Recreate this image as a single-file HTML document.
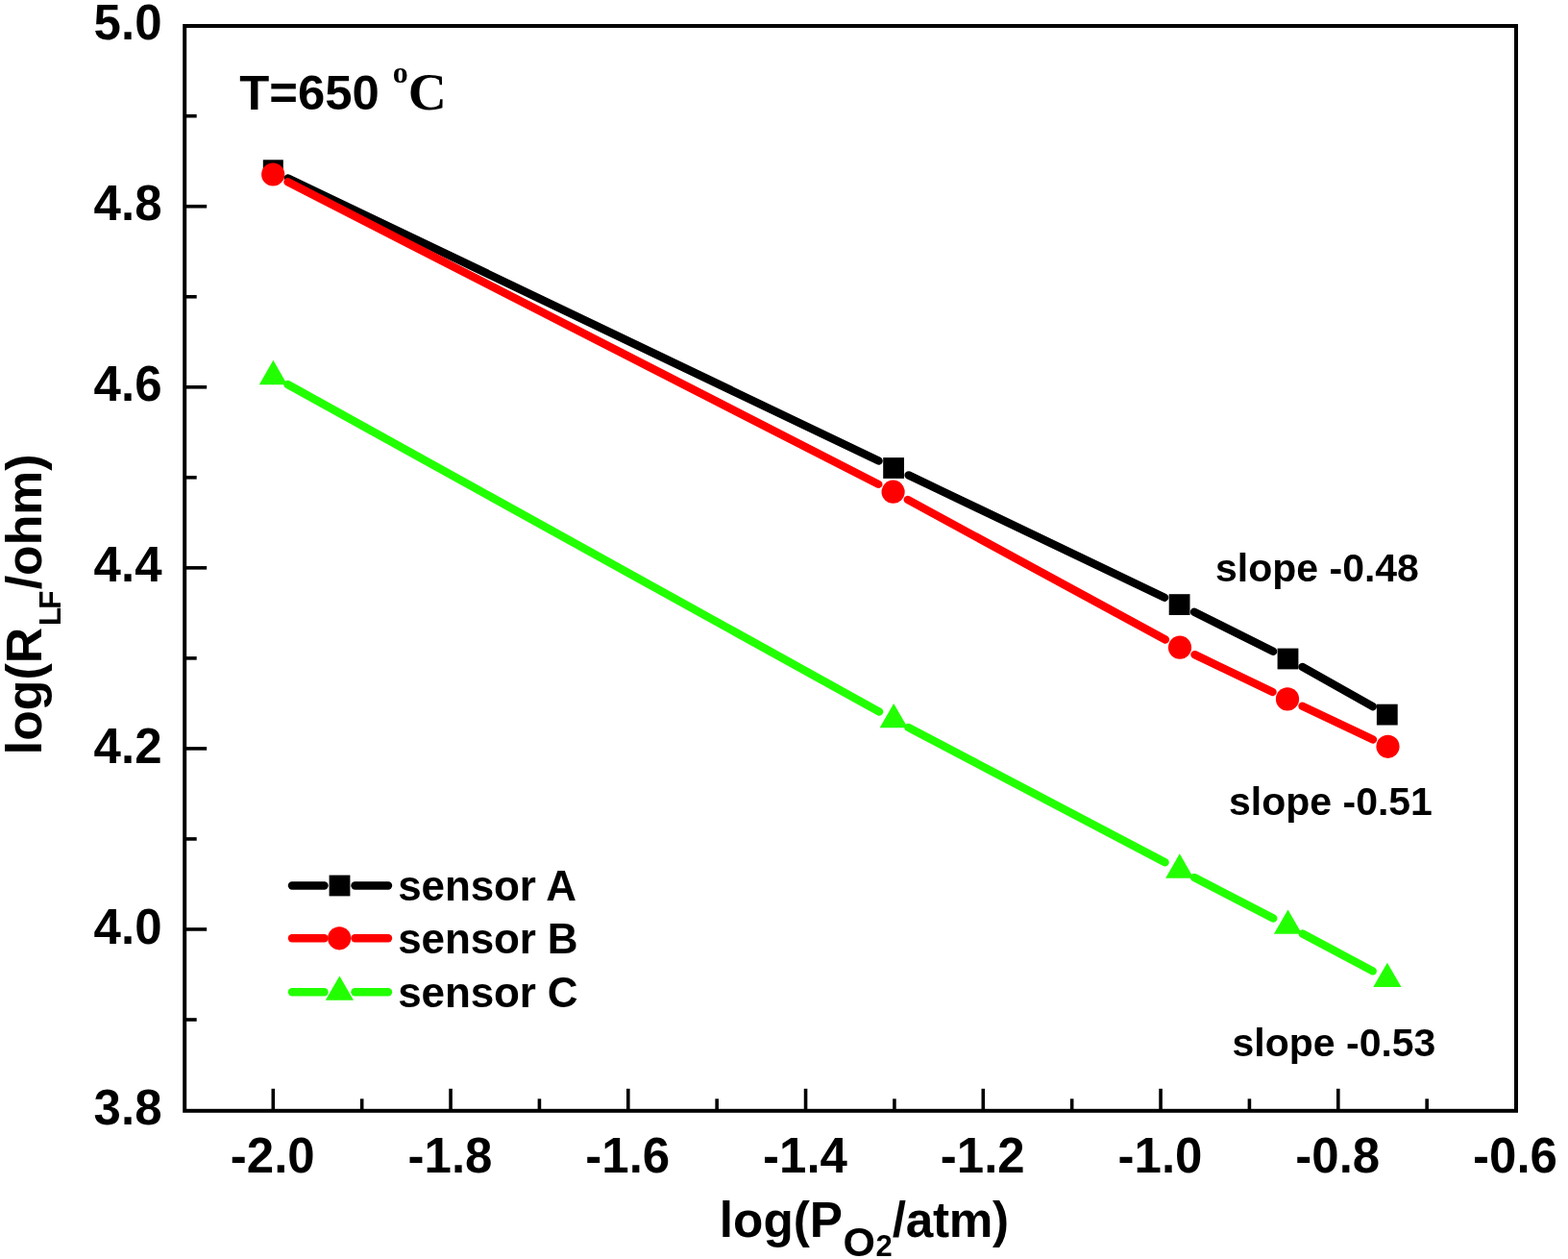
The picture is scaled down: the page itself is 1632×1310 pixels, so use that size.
<!DOCTYPE html>
<html lang="en"><head><meta charset="utf-8"><title>log(R LF/ohm) vs log(P O2/atm), T=650 C</title>
<style>html,body{margin:0;padding:0;background:#fff;}body{width:1632px;height:1310px;overflow:hidden;}svg{display:block;}text{font-family:"Liberation Sans", Arial, Helvetica, sans-serif;font-weight:bold;fill:#000;}.serif{font-family:"Liberation Serif", "Times New Roman", serif;font-weight:bold;}</style>
</head><body>
<svg width="1632" height="1310" viewBox="0 0 1632 1310">
<rect x="0" y="0" width="1632" height="1310" fill="#ffffff"/>
<g stroke="#000" stroke-width="4.0" fill="none" stroke-linecap="butt">
<rect x="192.2" y="27.0" width="1385.8" height="1128.8"/>
</g>
<g stroke="#000" stroke-width="3.6" stroke-linecap="butt">
<line x1="284.30" y1="1155.8" x2="284.30" y2="1132.80"/>
<line x1="376.68" y1="1155.8" x2="376.68" y2="1143.30"/>
<line x1="469.05" y1="1155.8" x2="469.05" y2="1132.80"/>
<line x1="561.43" y1="1155.8" x2="561.43" y2="1143.30"/>
<line x1="653.80" y1="1155.8" x2="653.80" y2="1132.80"/>
<line x1="746.17" y1="1155.8" x2="746.17" y2="1143.30"/>
<line x1="838.55" y1="1155.8" x2="838.55" y2="1132.80"/>
<line x1="930.93" y1="1155.8" x2="930.93" y2="1143.30"/>
<line x1="1023.30" y1="1155.8" x2="1023.30" y2="1132.80"/>
<line x1="1115.67" y1="1155.8" x2="1115.67" y2="1143.30"/>
<line x1="1208.05" y1="1155.8" x2="1208.05" y2="1132.80"/>
<line x1="1300.42" y1="1155.8" x2="1300.42" y2="1143.30"/>
<line x1="1392.80" y1="1155.8" x2="1392.80" y2="1132.80"/>
<line x1="1485.17" y1="1155.8" x2="1485.17" y2="1143.30"/>
<line x1="192.2" y1="120.72" x2="204.70" y2="120.72"/>
<line x1="192.2" y1="214.75" x2="215.20" y2="214.75"/>
<line x1="192.2" y1="308.77" x2="204.70" y2="308.77"/>
<line x1="192.2" y1="402.80" x2="215.20" y2="402.80"/>
<line x1="192.2" y1="496.82" x2="204.70" y2="496.82"/>
<line x1="192.2" y1="590.85" x2="215.20" y2="590.85"/>
<line x1="192.2" y1="684.88" x2="204.70" y2="684.88"/>
<line x1="192.2" y1="778.90" x2="215.20" y2="778.90"/>
<line x1="192.2" y1="872.93" x2="204.70" y2="872.93"/>
<line x1="192.2" y1="966.95" x2="215.20" y2="966.95"/>
<line x1="192.2" y1="1060.98" x2="204.70" y2="1060.98"/>
</g>
<g font-size="51" text-anchor="middle">
<text x="283.80" y="1220">-2.0</text>
<text x="468.55" y="1220">-1.8</text>
<text x="653.30" y="1220">-1.6</text>
<text x="838.05" y="1220">-1.4</text>
<text x="1022.80" y="1220">-1.2</text>
<text x="1207.55" y="1220">-1.0</text>
<text x="1392.30" y="1220">-0.8</text>
<text x="1577.05" y="1220">-0.6</text>
</g>
<g font-size="51" text-anchor="end">
<text x="168.5" y="41.30">5.0</text>
<text x="168.5" y="229.35">4.8</text>
<text x="168.5" y="417.40">4.6</text>
<text x="168.5" y="605.45">4.4</text>
<text x="168.5" y="793.50">4.2</text>
<text x="168.5" y="981.55">4.0</text>
<text x="168.5" y="1169.60">3.8</text>
</g>
<text x="748.8" y="1286.6" font-size="51.3">log(P<tspan font-size="43" dy="20" dx="0.5">O</tspan><tspan font-size="31" dy="0.2" dx="0.6">2</tspan><tspan dy="-20.2" style="letter-spacing:-0.3px">/atm)</tspan></text>
<text transform="translate(42.6,785.2) rotate(-90)" font-size="51.8">log(R<tspan font-size="32" dy="20.8" dx="1.5" style="letter-spacing:-2.2px">LF</tspan><tspan dy="-20.8" dx="3.3">/ohm)</tspan></text>
<line x1="299.82" y1="185.42" x2="914.58" y2="479.58" stroke="#000000" stroke-width="8.4" stroke-linecap="round"/>
<line x1="945.62" y1="494.41" x2="1212.08" y2="621.69" stroke="#000000" stroke-width="8.4" stroke-linecap="round"/>
<line x1="1242.99" y1="636.79" x2="1325.11" y2="677.81" stroke="#000000" stroke-width="8.4" stroke-linecap="round"/>
<line x1="1355.49" y1="693.93" x2="1428.81" y2="735.17" stroke="#000000" stroke-width="8.4" stroke-linecap="round"/>
<line x1="299.51" y1="189.33" x2="914.29" y2="503.87" stroke="#ff0000" stroke-width="8.4" stroke-linecap="round"/>
<line x1="944.72" y1="519.91" x2="1212.88" y2="665.49" stroke="#ff0000" stroke-width="8.4" stroke-linecap="round"/>
<line x1="1243.51" y1="681.14" x2="1324.49" y2="719.96" stroke="#ff0000" stroke-width="8.4" stroke-linecap="round"/>
<line x1="1355.55" y1="734.75" x2="1428.95" y2="769.45" stroke="#ff0000" stroke-width="8.4" stroke-linecap="round"/>
<line x1="299.45" y1="400.02" x2="915.15" y2="740.58" stroke="#22ff00" stroke-width="8.4" stroke-linecap="round"/>
<line x1="945.43" y1="756.90" x2="1212.57" y2="897.20" stroke="#22ff00" stroke-width="8.4" stroke-linecap="round"/>
<line x1="1243.08" y1="913.09" x2="1325.22" y2="955.51" stroke="#22ff00" stroke-width="8.4" stroke-linecap="round"/>
<line x1="1355.68" y1="971.49" x2="1428.72" y2="1010.41" stroke="#22ff00" stroke-width="8.4" stroke-linecap="round"/>
<rect x="273.80" y="166.30" width="21.0" height="21.0" fill="#000000"/>
<rect x="919.20" y="476.10" width="21.8" height="21.8" fill="#000000"/>
<rect x="1216.70" y="618.20" width="21.8" height="21.8" fill="#000000"/>
<rect x="1329.60" y="674.60" width="21.8" height="21.8" fill="#000000"/>
<rect x="1432.90" y="732.70" width="21.8" height="21.8" fill="#000000"/>
<circle cx="284.20" cy="181.50" r="12.1" fill="#ff0000"/>
<circle cx="929.60" cy="511.70" r="12.1" fill="#ff0000"/>
<circle cx="1228.00" cy="673.70" r="12.1" fill="#ff0000"/>
<circle cx="1340.00" cy="727.40" r="12.1" fill="#ff0000"/>
<circle cx="1444.50" cy="776.80" r="12.1" fill="#ff0000"/>
<polygon points="284.40,374.84 299.00,400.13 269.80,400.13" fill="#22ff00"/>
<polygon points="930.20,732.04 944.80,757.33 915.60,757.33" fill="#22ff00"/>
<polygon points="1227.80,888.34 1242.40,913.63 1213.20,913.63" fill="#22ff00"/>
<polygon points="1340.50,946.54 1355.10,971.83 1325.90,971.83" fill="#22ff00"/>
<polygon points="1443.90,1001.64 1458.50,1026.93 1429.30,1026.93" fill="#22ff00"/>
<line x1="304" y1="921.5" x2="337.5" y2="921.5" stroke="#000000" stroke-width="8.4" stroke-linecap="round"/>
<line x1="369.5" y1="921.5" x2="404" y2="921.5" stroke="#000000" stroke-width="8.4" stroke-linecap="round"/>
<rect x="342.60" y="910.60" width="21.8" height="21.8" fill="#000000"/>
<text x="414.3" y="937.0" font-size="44" style="letter-spacing:-0.15px">sensor A</text>
<line x1="304" y1="976.3" x2="337.5" y2="976.3" stroke="#ff0000" stroke-width="8.4" stroke-linecap="round"/>
<line x1="369.5" y1="976.3" x2="404" y2="976.3" stroke="#ff0000" stroke-width="8.4" stroke-linecap="round"/>
<circle cx="353.20" cy="976.30" r="12.1" fill="#ff0000"/>
<text x="414.3" y="992.3" font-size="44" style="letter-spacing:-0.15px">sensor B</text>
<line x1="304" y1="1032.3" x2="337.5" y2="1032.3" stroke="#22ff00" stroke-width="8.4" stroke-linecap="round"/>
<line x1="369.5" y1="1032.3" x2="404" y2="1032.3" stroke="#22ff00" stroke-width="8.4" stroke-linecap="round"/>
<polygon points="353.40,1015.44 368.00,1040.73 338.80,1040.73" fill="#22ff00"/>
<text x="414.3" y="1047.6" font-size="44" style="letter-spacing:-0.15px">sensor C</text>
<text x="249.3" y="114" font-size="50.8">T=650 <tspan class="serif" font-size="32" dy="-27.7" dx="-0.2">o</tspan><tspan class="serif" font-size="55.5" dy="28" dx="0">C</tspan></text>
<text x="1265" y="605.1" font-size="41">slope -0.48</text>
<text x="1279" y="847.8" font-size="41">slope -0.51</text>
<text x="1282.5" y="1098.6" font-size="41">slope -0.53</text>
</svg></body></html>
